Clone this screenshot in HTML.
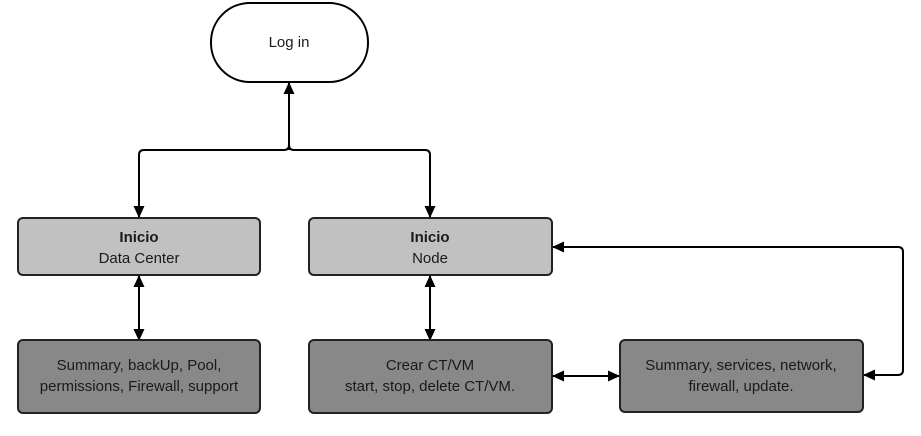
<!DOCTYPE html>
<html><head><meta charset="utf-8"><style>
html,body{margin:0;padding:0;background:#fff;}
svg{display:block;}
text{font-family:"Liberation Sans",Arial,sans-serif;font-size:15px;fill:#1a1a1a;}
</style></head><body>
<svg width="921" height="436" viewBox="0 0 921 436" xmlns="http://www.w3.org/2000/svg">
<defs>
<marker id="a" markerWidth="12" markerHeight="12" refX="11" refY="6" orient="auto" markerUnits="userSpaceOnUse">
<path d="M0,0.5 L12,6 L0,11.5 z" fill="#000"/></marker>
<marker id="as" markerWidth="12" markerHeight="12" refX="1" refY="6" orient="auto" markerUnits="userSpaceOnUse">
<path d="M12,0.5 L0,6 L12,11.5 z" fill="#000"/></marker>
</defs>
<g stroke="#000" stroke-width="2" fill="none">
<rect x="211" y="3" width="157" height="79" rx="39" fill="#fff"/>
<path d="M289,150 L289,83" marker-end="url(#a)"/>
<path d="M139,210 L139,155 Q139,150 144,150 L284,150 Q289,150 289,145 Q289,150 294,150 L425,150 Q430,150 430,155 L430,210" />
<path d="M139,205 L139,217" marker-end="url(#a)"/>
<path d="M430,205 L430,217" marker-end="url(#a)"/>
<path d="M139,276 L139,340" marker-start="url(#as)" marker-end="url(#a)"/>
<path d="M430,276 L430,340" marker-start="url(#as)" marker-end="url(#a)"/>
<path d="M553,376 L619,376" marker-start="url(#as)" marker-end="url(#a)"/>
<path d="M870,375 L898,375 Q903,375 903,370 L903,252 Q903,247 898,247 L553,247" marker-end="url(#a)"/>
<path d="M876,375 L864,375" marker-end="url(#a)"/>
</g>
<g stroke="#222" stroke-width="2">
<rect x="18" y="218" width="242" height="57" rx="5" fill="#c1c1c1"/>
<rect x="309" y="218" width="243" height="57" rx="5" fill="#c1c1c1"/>
<rect x="18" y="340" width="242" height="73" rx="5" fill="#888"/>
<rect x="309" y="340" width="243" height="73" rx="5" fill="#888"/>
<rect x="620" y="340" width="243" height="72" rx="5" fill="#888"/>
</g>
<g text-anchor="middle">
<text x="289" y="47">Log in</text>
<text x="139" y="242" font-weight="bold">Inicio</text>
<text x="139" y="263">Data Center</text>
<text x="430" y="242" font-weight="bold">Inicio</text>
<text x="430" y="263">Node</text>
<text x="139" y="370">Summary, backUp, Pool,</text>
<text x="139" y="391">permissions, Firewall, support</text>
<text x="430" y="370">Crear CT/VM</text>
<text x="430" y="391">start, stop, delete CT/VM.</text>
<text x="741" y="370">Summary, services, network,</text>
<text x="741" y="391">firewall, update.</text>
</g>
</svg>
</body></html>
